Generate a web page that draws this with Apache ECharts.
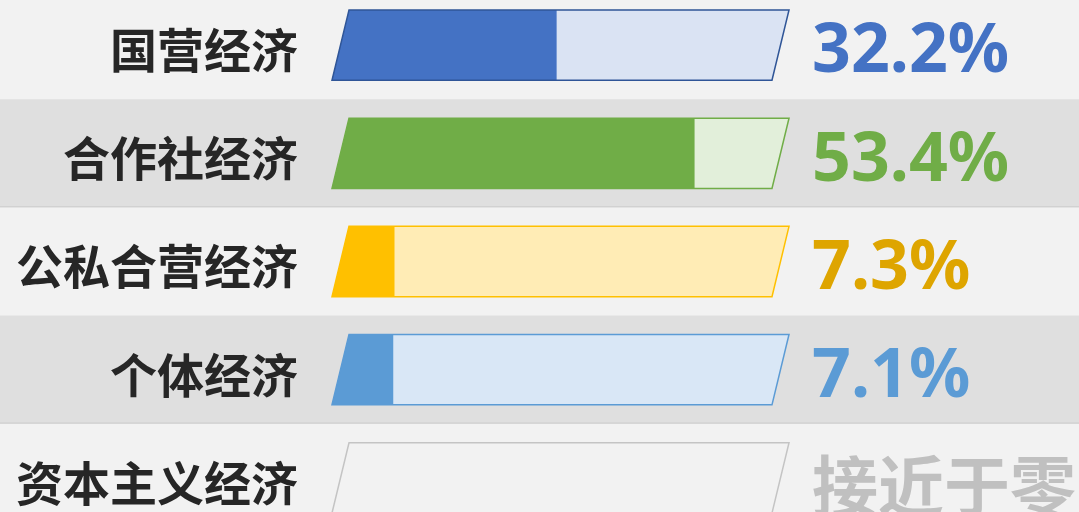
<!DOCTYPE html>
<html>
<head>
<meta charset="utf-8">
<script src="https://cdn.jsdelivr.net/npm/echarts@6/dist/echarts.min.js"></script>
<style>
html,body{margin:0;padding:0;background:#f2f2f2;overflow:hidden;}
#main{width:1079px;height:541px;position:relative;top:-9px;}
</style>
</head>
<body>
<div id="main"></div>
<script>
// ---- data ----
var categories = ['国营经济', '合作社经济', '公私合营经济', '个体经济', '资本主义经济'];
var shares = [32.2, 53.4, 7.3, 7.1, 0];
var valueLabels = ['32.2%', '53.4%', '7.3%', '7.1%', '接近于零'];

// ---- styles ----
var fillColors   = ['#4472c4', '#70ad47', '#ffc000', '#5b9bd5', 'rgba(0,0,0,0)'];
var trackColors  = ['#dae3f3', '#e2efda', '#ffecb5', '#d9e7f6', 'rgba(0,0,0,0)'];
var borderColors = ['#2f5597', '#70ad47', '#ffc000', '#5b9bd5', '#c4c4c4'];
var textColors   = ['#4472c4', '#70ad47', '#dea500', '#5b9bd5', '#c0c0c0'];
var rowBg        = ['#f2f2f2', '#dfdfdf'];

var chart = echarts.init(document.getElementById('main'), null, {renderer: 'canvas'});

var seriesData = shares.map(function (v, i) { return [v, categories[i]]; });

function bandInfo(api) {
  var idx = api.value(1);
  var c = api.coord([0, idx]);
  var band = api.size([0, 1])[1];
  return {idx: idx, cy: c[1], band: band};
}

var option = {
  backgroundColor: '#f2f2f2',
  animation: false,
  grid: {left: 340.5, right: 298.5, top: 0, bottom: 0, containLabel: false},
  xAxis: {type: 'value', min: -1, max: 66.6, show: false},
  yAxis: {type: 'category', data: categories, inverse: true, show: false},
  series: [
    {
      type: 'custom',
      z: 1,
      silent: true,
      encode: {x: 0, y: 1},
      data: seriesData,
      renderItem: function (params, api) {
        var b = bandInfo(api);
        var i = params.dataIndex;
        var top = b.cy - b.band / 2, bot = b.cy + b.band / 2;
        var w = api.getWidth();
        var children = [{
          type: 'rect',
          shape: {x: 0, y: top, width: w, height: b.band},
          style: {fill: rowBg[i % 2]}
        }];
        if (i % 2 === 1) {
          children.push({
            type: 'line',
            shape: {x1: 0, y1: bot - 0.5, x2: w, y2: bot - 0.5},
            style: {stroke: '#cdcdcd', lineWidth: 1.5}
          });
        }
        return {type: 'group', children: children};
      }
    },
    {
      type: 'custom',
      z: 2,
      silent: true,
      encode: {x: 0, y: 1},
      data: seriesData,
      renderItem: function (params, api) {
        var b = bandInfo(api);
        var i = params.dataIndex;
        var cs = params.coordSys;
        var h = b.band * 0.65;
        var top = b.cy - h / 2, bot = b.cy + h / 2;
        var s = h * 0.121;
        var L = cs.x, R = cs.x + cs.width;
        var xv = api.coord([api.value(0), b.idx])[0];
        var track = [[L + s, top], [R + s, top], [R - s, bot], [L - s, bot]];
        var children = [{
          type: 'polygon',
          shape: {points: track},
          style: {fill: trackColors[i], stroke: null}
        }];
        if (api.value(0) > 0) {
          children.push({
            type: 'polygon',
            shape: {points: [[L + s, top], [xv, top], [xv, bot], [L - s, bot]]},
            style: {fill: fillColors[i]}
          });
        }
        children.push({
          type: 'polygon',
          shape: {points: track},
          style: {fill: null, stroke: borderColors[i], lineWidth: 1.5}
        });
        return {type: 'group', children: children};
      }
    },
    {
      type: 'custom',
      z: 3,
      silent: true,
      encode: {x: 0, y: 1},
      data: seriesData,
      renderItem: function (params, api) {
        var b = bandInfo(api);
        var i = params.dataIndex;
        var cs = params.coordSys;
        var isText = !/%$/.test(valueLabels[i]);
        return {
          type: 'group',
          children: [
            {
              type: 'text',
              style: {
                text: categories[i],
                x: cs.x - 42.5,
                y: b.cy + 5,
                align: 'right',
                verticalAlign: 'middle',
                fill: '#262626',
                font: 'bold 47px "Noto Sans CJK SC"'
              }
            },
            {
              type: 'text',
              style: {
                text: valueLabels[i],
                x: cs.x + cs.width + 31.5,
                y: b.cy + (isText ? 8 : 8),
                align: 'left',
                verticalAlign: 'middle',
                fill: textColors[i],
                font: isText ? 'bold 66px "Noto Sans CJK SC"' : 'bold 68px "Noto Sans"'
              }
            }
          ]
        };
      }
    }
  ]
};
chart.setOption(option);
</script>
</body>
</html>
